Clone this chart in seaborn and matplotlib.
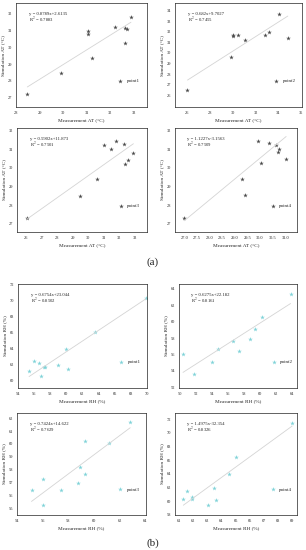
import matplotlib
matplotlib.use("Agg")
import matplotlib.pyplot as plt
import seaborn as sns
import pandas as pd

# ---- data ----
# (a) air temperature
a1_x = [28.48, 29.9, 31.03, 31.03, 31.2, 32.2, 32.62, 32.7, 32.6, 32.87]
a1_y = [27.22, 28.48, 30.98, 30.82, 29.4, 31.2, 31.18, 31.12, 30.29, 31.8]
a2_x = [26.0, 29.8, 30.0, 30.05, 30.44, 31.03, 32.85, 33.18, 34.1, 34.85]
a2_y = [26.5, 29.6, 31.66, 31.58, 31.7, 31.2, 31.7, 31.97, 33.7, 31.44]
a3_x = [26.04, 29.5, 30.55, 31.0, 31.45, 31.8, 32.3, 32.35, 32.55, 32.92]
a3_y = [27.29, 28.5, 29.4, 31.24, 31.0, 31.44, 31.3, 30.2, 30.45, 30.83]
a4_x = [27.0, 29.28, 29.39, 30.04, 29.94, 30.34, 30.63, 30.77, 30.71, 31.04]
a4_y = [27.3, 29.43, 28.53, 30.24, 31.46, 31.34, 31.25, 31.0, 30.87, 30.47]
# (b) relative humidity
b1_x = [55.37, 56.04, 56.58, 56.83, 57.24, 57.4, 58.9, 59.98, 60.19, 63.52, 69.88]
b1_y = [61.13, 62.34, 62.13, 60.5, 61.67, 61.7, 61.84, 63.97, 61.42, 66.02, 70.29]
b2_x = [50.4, 51.8, 53.97, 54.77, 56.6, 57.36, 58.79, 59.33, 60.25, 63.8]
b2_y = [56.08, 53.64, 55.07, 56.67, 57.6, 56.46, 57.85, 59.16, 60.63, 63.37]
b3_x = [55.13, 56.06, 56.06, 57.42, 58.73, 58.94, 59.27, 59.27, 61.15, 62.82]
b3_y = [56.44, 57.26, 55.26, 56.44, 56.95, 58.18, 57.67, 60.26, 60.08, 61.72]
b4_x = [61.29, 61.57, 61.88, 61.88, 63.07, 63.48, 63.64, 64.5, 65.05, 69.02]
b4_y = [60.39, 61.56, 60.63, 60.34, 59.46, 62.0, 60.2, 64.0, 66.54, 71.41]

slopes = [0.8789, 0.682, 0.5902, 1.1227, 0.6754, 0.6275, 0.7424, 1.4975]
intercepts = [2.6135, 9.7027, 11.873, -3.1563, 23.044, 22.182, 14.622, -32.354]
r2 = ["0.7883", "0.7455", "0.7501", "0.7509", "0.8502", "0.8161", "0.7629", "0.8326"]
names = ["point1", "point2", "point3", "point4"] * 2

xs = [a1_x, a2_x, a3_x, a4_x, b1_x, b2_x, b3_x, b4_x]
ys = [a1_y, a2_y, a3_y, a4_y, b1_y, b2_y, b3_y, b4_y]

xticks = [
    [28, 29, 30, 31, 32, 33],
    [26, 28, 30, 32, 34, 36],
    [26, 27, 28, 29, 30, 31, 32, 33],
    [27.0, 27.5, 28.0, 28.5, 29.0, 29.5, 30.0, 30.5, 31.0],
    [54, 56, 58, 60, 62, 64, 66, 68, 70],
    [50, 52, 54, 56, 58, 60, 62, 64],
    [54, 56, 58, 60, 62, 64],
    [61, 62, 63, 64, 65, 66, 67, 68, 69],
]
yticks = [
    [27, 28, 29, 30, 31, 32],
    [26, 27, 28, 29, 30, 31, 32, 33, 34],
    [27, 28, 29, 30, 31, 32],
    [27, 28, 29, 30, 31, 32],
    [60, 62, 64, 66, 68, 70, 72],
    [52, 54, 56, 58, 60, 62, 64],
    [55, 56, 57, 58, 59, 60, 61, 62],
    [58, 60, 62, 64, 66, 68, 70, 72],
]
xlims = [(28, 33.55), (24.9, 36.1), (25.4, 33.8), (26.63, 31.47),
         (54, 70), (49.9, 64.6), (54, 64.05), (60.7, 69.36)]
ylims = [(26.45, 32.65), (24.9, 34.7), (26.55, 32.15), (26.55, 32.15),
         (59.0, 72.1), (51.9, 64.6), (54.5, 62.4), (58.0, 72.9)]

# axes boxes in pixels: left, right, top, bottom
boxes = [(16, 147, 3, 107), (175, 302, 3, 107),
         (17, 147, 128, 232), (175, 297, 128, 232),
         (18, 147, 284, 388), (179, 297, 284, 388),
         (17, 146, 413, 515), (175, 297, 413, 515)]

W, H = 306, 550
sns.set_theme(style="white")
plt.rcParams['font.family'] = ['Liberation Serif', 'DejaVu Serif']
plt.rcParams['mathtext.fontset'] = 'stix'

fig = plt.figure(figsize=(W / 100, H / 100), dpi=100)

for i in range(8):
    l, r, t, b = boxes[i]
    ax = fig.add_axes([l / W, 1 - b / H, (r - l) / W, (b - t) / H])
    is_rh = i >= 4
    col = "#7fd3d8" if is_rh else "#4a4a4a"
    df = pd.DataFrame({"x": xs[i], "y": ys[i]})
    lx = [min(xs[i]), max(xs[i])]
    line = pd.DataFrame({"x": lx, "y": [slopes[i] * v + intercepts[i] for v in lx]})
    sns.lineplot(data=line, x="x", y="y", ax=ax, color="#d4d4d4", lw=0.6)
    sns.scatterplot(data=df, x="x", y="y", ax=ax, marker="*", s=12, color=col,
                    linewidth=0, label=names[i])
    ax.set_xlim(*xlims[i])
    ax.set_ylim(*ylims[i])
    ax.set_xticks(xticks[i])
    ax.set_yticks(yticks[i])
    if i == 3:
        ax.set_xticklabels([f"{v:.1f}" for v in xticks[i]])
    ax.tick_params(labelsize=3.2, length=1.5, width=0.4, pad=1.5, direction="out")
    for s in ax.spines.values():
        s.set_linewidth(0.5)
        s.set_color("#222222")
    q = "RH (%)" if is_rh else "AT (°C)"
    ax.set_xlabel("Measurement " + q, fontsize=3.8, labelpad=2)
    ax.set_ylabel("Simulation " + q, fontsize=3.8, labelpad=1.5)
    sign = "+" if intercepts[i] >= 0 else "-"
    ax.text(0.1, 0.89, f"y = {slopes[i]}x{sign}{abs(intercepts[i])}",
            transform=ax.transAxes, fontsize=3.4, va="center")
    ax.text(0.1, 0.83, f"R$^2$ = {r2[i]}", transform=ax.transAxes,
            fontsize=3.4, va="center")
    ax.legend(loc="center left", bbox_to_anchor=(0.74, 0.25), frameon=False,
              fontsize=3.6, handletextpad=0.3, markerscale=1.0, borderpad=0)

fig.text(153 / W, 1 - 262 / H, "(a)", fontsize=8, ha="center", va="center")
fig.text(153 / W, 1 - 543 / H, "(b)", fontsize=8, ha="center", va="center")

plt.savefig("out.png", dpi=100)
